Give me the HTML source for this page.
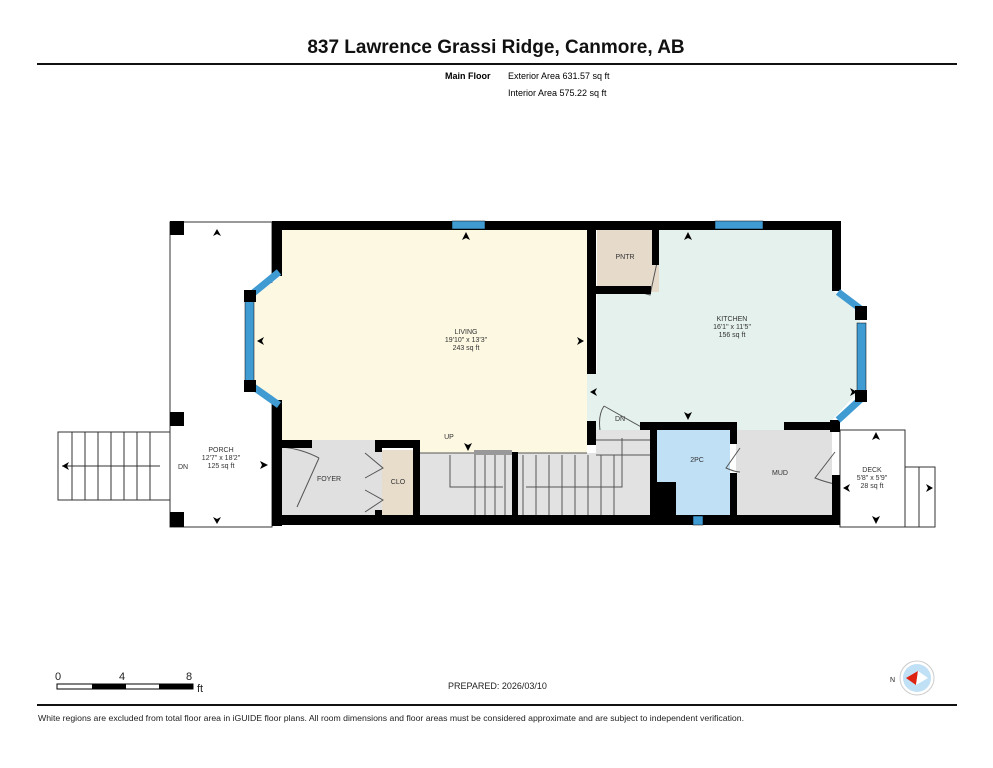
<!DOCTYPE html>
<html><head><meta charset="utf-8"><style>
html,body{margin:0;padding:0;background:#fff;width:993px;height:768px;overflow:hidden}
svg{display:block;font-family:"Liberation Sans",sans-serif}
</style></head><body>
<svg width="993" height="768" viewBox="0 0 993 768" xmlns="http://www.w3.org/2000/svg">
<text x="496" y="53" font-size="19" font-weight="bold" text-anchor="middle" fill="#111">837 Lawrence Grassi Ridge, Canmore, AB</text>
<rect x="37" y="63" width="920" height="2" fill="#111"/>
<text x="445" y="79" font-size="9" font-weight="bold">Main Floor</text>
<text x="508" y="79" font-size="9">Exterior Area 631.57 sq ft</text>
<text x="508" y="96" font-size="9">Interior Area 575.22 sq ft</text>

<rect x="170" y="222" width="102" height="305" fill="#fff" stroke="#333" stroke-width="1"/>
<rect x="170" y="221" width="14" height="14" fill="#000"/>
<rect x="170" y="412" width="14" height="14" fill="#000"/>
<rect x="170" y="512" width="14" height="15" fill="#000"/>
<rect x="58" y="432" width="112" height="68" fill="#fff" stroke="#333"/>
<g stroke="#333" stroke-width="1">
<line x1="72" y1="432" x2="72" y2="500"/><line x1="85" y1="432" x2="85" y2="500"/><line x1="98" y1="432" x2="98" y2="500"/><line x1="111" y1="432" x2="111" y2="500"/><line x1="124" y1="432" x2="124" y2="500"/><line x1="137" y1="432" x2="137" y2="500"/><line x1="150" y1="432" x2="150" y2="500"/>
<line x1="62" y1="466" x2="160" y2="466"/></g>
<rect x="840" y="430" width="65" height="97" fill="#fff" stroke="#333"/>
<rect x="905" y="467" width="30" height="60" fill="#fff" stroke="#333"/>
<line x1="919" y1="467" x2="919" y2="527" stroke="#333"/>

<polygon points="282,230 587,230 587,453 420,453 420,440 282,440 282,402 250,382 250,300 282,275" fill="#fdf8e2"/>
<polygon points="597,230 832,230 832,290 860,310 860,390 832,420 832,430 597,430" fill="#e4f1ec"/>
<rect x="587" y="373" width="12" height="57" fill="#e4f1ec"/>
<rect x="597" y="230" width="62" height="62" fill="#e6dacb"/>
<rect x="282" y="440" width="100" height="75" fill="#e0e0e0"/>
<rect x="382" y="450" width="31" height="65" fill="#e8dccb"/>
<rect x="420" y="453" width="235" height="62" fill="#e2e2e2"/>
<rect x="596" y="430" width="59" height="25" fill="#e2e2e2"/>
<rect x="657" y="430" width="73" height="85" fill="#c0e0f6"/>
<rect x="736" y="430" width="96" height="85" fill="#e0e0e0"/>

<g stroke="#555" stroke-width="1" fill="none">
<line x1="420" y1="453" x2="587" y2="453"/>
<line x1="475" y1="455" x2="475" y2="515"/><line x1="485" y1="455" x2="485" y2="515"/><line x1="495" y1="455" x2="495" y2="515"/><line x1="505" y1="455" x2="505" y2="515"/>
<polyline points="450,455 450,487 503,487"/>
<line x1="523" y1="455" x2="523" y2="515"/><line x1="536" y1="455" x2="536" y2="515"/><line x1="549" y1="455" x2="549" y2="515"/><line x1="562" y1="455" x2="562" y2="515"/><line x1="575" y1="455" x2="575" y2="515"/><line x1="588" y1="455" x2="588" y2="515"/><line x1="601" y1="455" x2="601" y2="515"/><line x1="614" y1="455" x2="614" y2="515"/>
<polyline points="526,487 622,487 622,438"/>
<line x1="596" y1="440" x2="650" y2="440"/><line x1="596" y1="455" x2="650" y2="455"/>
<polyline points="365,453 383,468 365,478"/><polyline points="365,490 383,500 365,512"/>
<path d="M319,458 L297,507 M282,447 Q302,449 319,458"/>
<path d="M740,448 L726,468 Q735,472 740,472"/>
<path d="M835,452 L815,478 Q825,482 835,484"/>
<path d="M658,258 L650,295 L632,290"/>
<path d="M604,406 L643,428 M604,406 Q598,415 600,430"/>
</g>
<rect x="474" y="450" width="38" height="5" fill="#999"/>

<g fill="#000">
<rect x="272" y="221" width="568" height="9"/>
<rect x="272" y="221" width="10" height="55"/>
<rect x="272" y="400" width="10" height="126"/>
<rect x="272" y="515" width="568" height="10"/>
<rect x="587" y="230" width="9" height="144"/>
<rect x="587" y="421" width="9" height="24"/>
<rect x="282" y="440" width="30" height="8"/>
<rect x="375" y="440" width="45" height="8"/>
<rect x="375" y="440" width="7" height="12"/>
<rect x="375" y="510" width="7" height="6"/>
<rect x="413" y="440" width="7" height="76"/>
<rect x="512" y="452" width="6" height="64"/>
<rect x="640" y="422" width="95" height="8"/>
<rect x="784" y="422" width="56" height="8"/>
<rect x="650" y="422" width="7" height="94"/>
<rect x="650" y="482" width="26" height="34"/>
<rect x="730" y="422" width="7" height="22"/>
<rect x="730" y="473" width="7" height="43"/>
<rect x="832" y="221" width="9" height="70"/>
<rect x="830" y="420" width="10" height="12"/>
<rect x="832" y="475" width="8" height="50"/>
<rect x="596" y="286" width="55" height="8"/>
<rect x="652" y="230" width="7" height="35"/>
</g>
<g fill="#3f9bd2" stroke="#000" stroke-width="0.5">
<rect x="452" y="221" width="33" height="8"/>
<rect x="715" y="221" width="48" height="8"/>
<rect x="245" y="300" width="9" height="82"/>
<rect x="857" y="323" width="9" height="68"/>
<rect x="693" y="516" width="10" height="9"/>
</g>
<g stroke="#3f9bd2" stroke-width="7" fill="none">
<line x1="279" y1="272" x2="252" y2="294"/><line x1="252" y1="386" x2="279" y2="405"/>
<line x1="838" y1="292" x2="862" y2="310"/><line x1="862" y1="398" x2="838" y2="420"/>
</g>
<g fill="#000">
<rect x="244" y="290" width="12" height="12"/><rect x="244" y="380" width="12" height="12"/>
<rect x="855" y="306" width="12" height="14"/><rect x="855" y="390" width="12" height="12"/>
</g>

<g fill="#000">
<polygon points="217,229 213,236 217,234 221,236"/>
<polygon points="217,524 213,517 217,519 221,517"/>
<polygon points="466,232 462,240 466,238 470,240"/>
<polygon points="257,341 264,337 262,341 264,345"/>
<polygon points="584,341 577,337 579,341 577,345"/>
<polygon points="268,465 260,461 262,465 260,469"/>
<polygon points="468,451 464,443 468,445 472,443"/>
<polygon points="688,232 684,240 688,238 692,240"/>
<polygon points="590,392 597,388 595,392 597,396"/>
<polygon points="857,392 850,388 852,392 850,396"/>
<polygon points="688,420 684,412 688,414 692,412"/>
<polygon points="876,432 872,440 876,438 880,440"/>
<polygon points="876,524 872,516 876,518 880,516"/>
<polygon points="843,488 850,484 848,488 850,492"/>
<polygon points="933,488 926,484 928,488 926,492"/>
<polygon points="62,466 69,462 67,466 69,470"/>
</g>

<g font-size="7" fill="#333" text-anchor="middle">
<text x="466" y="334">LIVING</text><text x="466" y="342">19'10" x 13'3"</text><text x="466" y="350">243 sq ft</text>
<text x="732" y="321">KITCHEN</text><text x="732" y="329">16'1" x 11'5"</text><text x="732" y="337">156 sq ft</text>
<text x="625" y="259">PNTR</text>
<text x="221" y="452">PORCH</text><text x="221" y="460">12'7" x 18'2"</text><text x="221" y="468">125 sq ft</text>
<text x="183" y="469">DN</text>
<text x="329" y="481">FOYER</text>
<text x="398" y="484">CLO</text>
<text x="449" y="439">UP</text>
<text x="620" y="421">DN</text>
<text x="697" y="462">2PC</text>
<text x="780" y="475">MUD</text>
<text x="872" y="472">DECK</text><text x="872" y="480">5'8" x 5'9"</text><text x="872" y="488">28 sq ft</text>
</g>

<g font-size="11" fill="#222">
<text x="55" y="680">0</text><text x="119" y="680">4</text><text x="186" y="680">8</text><text x="197" y="692">ft</text>
</g>
<rect x="57" y="684" width="136" height="5" fill="#fff" stroke="#000" stroke-width="1"/>
<rect x="92" y="684" width="34" height="5" fill="#000"/><rect x="159" y="684" width="34" height="5" fill="#000"/>
<text x="448" y="689" font-size="9" fill="#222">PREPARED: 2026/03/10</text>
<circle cx="917" cy="678" r="17" fill="#fff" stroke="#ccc"/>
<circle cx="917" cy="678" r="14" fill="#bfe0f5"/>
<polygon points="906,678 918,671 916,685" fill="#d21"/>
<polygon points="918,671 928,678 916,685" fill="#fff"/>
<text x="890" y="682" font-size="7" fill="#222">N</text>
<rect x="37" y="704" width="920" height="2" fill="#111"/>
<text x="38" y="721" font-size="8.7" fill="#222">White regions are excluded from total floor area in iGUIDE floor plans. All room dimensions and floor areas must be considered approximate and are subject to independent verification.</text>
</svg>
</body></html>
